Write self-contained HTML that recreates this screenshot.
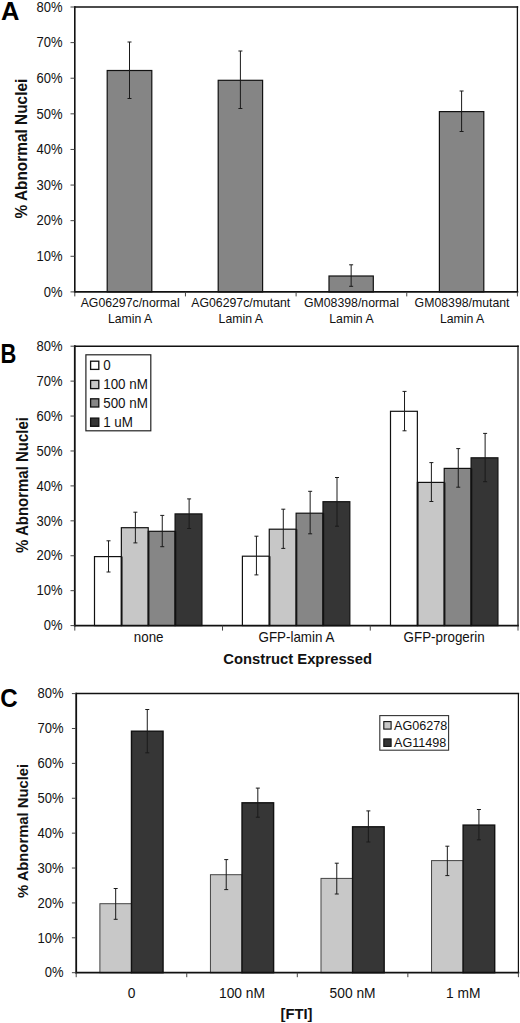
<!DOCTYPE html>
<html><head><meta charset="utf-8"><title>Figure</title>
<style>
html,body{margin:0;padding:0;background:#fff;}
body{width:520px;height:1023px;overflow:hidden;}
svg{display:block;font-family:"Liberation Sans", sans-serif;}
</style></head>
<body>
<svg width="520" height="1023" viewBox="0 0 520 1023">
<rect x="0" y="0" width="520" height="1023" fill="#ffffff"/>
<rect x="107.20" y="70.50" width="44.60" height="221.40" fill="#858585" stroke="#111" stroke-width="1.2"/>
<rect x="218.20" y="80.30" width="44.40" height="211.60" fill="#858585" stroke="#111" stroke-width="1.2"/>
<rect x="329.00" y="276.00" width="44.30" height="15.90" fill="#858585" stroke="#111" stroke-width="1.2"/>
<rect x="439.40" y="111.60" width="44.40" height="180.30" fill="#858585" stroke="#111" stroke-width="1.2"/>
<line x1="129.50" y1="42.00" x2="129.50" y2="98.50" stroke="#1a1a1a" stroke-width="1"/>
<line x1="127.50" y1="42.00" x2="131.50" y2="42.00" stroke="#1a1a1a" stroke-width="1"/>
<line x1="127.50" y1="98.50" x2="131.50" y2="98.50" stroke="#1a1a1a" stroke-width="1"/>
<line x1="240.40" y1="51.00" x2="240.40" y2="108.50" stroke="#1a1a1a" stroke-width="1"/>
<line x1="238.40" y1="51.00" x2="242.40" y2="51.00" stroke="#1a1a1a" stroke-width="1"/>
<line x1="238.40" y1="108.50" x2="242.40" y2="108.50" stroke="#1a1a1a" stroke-width="1"/>
<line x1="351.15" y1="264.80" x2="351.15" y2="286.30" stroke="#1a1a1a" stroke-width="1"/>
<line x1="349.15" y1="264.80" x2="353.15" y2="264.80" stroke="#1a1a1a" stroke-width="1"/>
<line x1="349.15" y1="286.30" x2="353.15" y2="286.30" stroke="#1a1a1a" stroke-width="1"/>
<line x1="461.60" y1="91.00" x2="461.60" y2="131.50" stroke="#1a1a1a" stroke-width="1"/>
<line x1="459.60" y1="91.00" x2="463.60" y2="91.00" stroke="#1a1a1a" stroke-width="1"/>
<line x1="459.60" y1="131.50" x2="463.60" y2="131.50" stroke="#1a1a1a" stroke-width="1"/>
<line x1="74.80" y1="7.00" x2="517.40" y2="7.00" stroke="#111" stroke-width="1.6" stroke-linecap="square"/>
<line x1="517.40" y1="7.00" x2="517.40" y2="291.90" stroke="#111" stroke-width="1.3" stroke-linecap="square"/>
<line x1="74.80" y1="7.00" x2="74.80" y2="291.90" stroke="#111" stroke-width="1.6" stroke-linecap="square"/>
<line x1="74.80" y1="291.90" x2="517.40" y2="291.90" stroke="#111" stroke-width="1.8" stroke-linecap="square"/>
<line x1="70.50" y1="291.90" x2="74.50" y2="291.90" stroke="#444" stroke-width="1"/>
<text transform="translate(62.50 296.60) scale(1 1.07)" font-size="13" text-anchor="end" font-weight="400" fill="#111">0%</text>
<line x1="70.50" y1="256.29" x2="74.50" y2="256.29" stroke="#444" stroke-width="1"/>
<text transform="translate(62.50 260.99) scale(1 1.07)" font-size="13" text-anchor="end" font-weight="400" fill="#111">10%</text>
<line x1="70.50" y1="220.67" x2="74.50" y2="220.67" stroke="#444" stroke-width="1"/>
<text transform="translate(62.50 225.37) scale(1 1.07)" font-size="13" text-anchor="end" font-weight="400" fill="#111">20%</text>
<line x1="70.50" y1="185.06" x2="74.50" y2="185.06" stroke="#444" stroke-width="1"/>
<text transform="translate(62.50 189.76) scale(1 1.07)" font-size="13" text-anchor="end" font-weight="400" fill="#111">30%</text>
<line x1="70.50" y1="149.45" x2="74.50" y2="149.45" stroke="#444" stroke-width="1"/>
<text transform="translate(62.50 154.15) scale(1 1.07)" font-size="13" text-anchor="end" font-weight="400" fill="#111">40%</text>
<line x1="70.50" y1="113.84" x2="74.50" y2="113.84" stroke="#444" stroke-width="1"/>
<text transform="translate(62.50 118.54) scale(1 1.07)" font-size="13" text-anchor="end" font-weight="400" fill="#111">50%</text>
<line x1="70.50" y1="78.22" x2="74.50" y2="78.22" stroke="#444" stroke-width="1"/>
<text transform="translate(62.50 82.92) scale(1 1.07)" font-size="13" text-anchor="end" font-weight="400" fill="#111">60%</text>
<line x1="70.50" y1="42.61" x2="74.50" y2="42.61" stroke="#444" stroke-width="1"/>
<text transform="translate(62.50 47.31) scale(1 1.07)" font-size="13" text-anchor="end" font-weight="400" fill="#111">70%</text>
<line x1="70.50" y1="7.00" x2="74.50" y2="7.00" stroke="#444" stroke-width="1"/>
<text transform="translate(62.50 11.70) scale(1 1.07)" font-size="13" text-anchor="end" font-weight="400" fill="#111">80%</text>
<text transform="translate(26.70 148.60) rotate(-90) scale(1 1.04)" font-size="15.4" text-anchor="middle" font-weight="700" fill="#111">% Abnormal Nuclei</text>
<line x1="74.80" y1="291.90" x2="74.80" y2="296.40" stroke="#444" stroke-width="1"/>
<line x1="185.45" y1="291.90" x2="185.45" y2="296.40" stroke="#444" stroke-width="1"/>
<line x1="296.10" y1="291.90" x2="296.10" y2="296.40" stroke="#444" stroke-width="1"/>
<line x1="406.75" y1="291.90" x2="406.75" y2="296.40" stroke="#444" stroke-width="1"/>
<line x1="517.40" y1="291.90" x2="517.40" y2="296.40" stroke="#444" stroke-width="1"/>
<text transform="translate(130.12 307.30) scale(1 1.07)" font-size="12.3" text-anchor="middle" font-weight="400" fill="#111">AG06297c/normal</text>
<text transform="translate(130.12 323.00) scale(1 1.07)" font-size="12.3" text-anchor="middle" font-weight="400" fill="#111">Lamin A</text>
<text transform="translate(240.77 307.30) scale(1 1.07)" font-size="12.3" text-anchor="middle" font-weight="400" fill="#111">AG06297c/mutant</text>
<text transform="translate(240.77 323.00) scale(1 1.07)" font-size="12.3" text-anchor="middle" font-weight="400" fill="#111">Lamin A</text>
<text transform="translate(351.43 307.30) scale(1 1.07)" font-size="12.3" text-anchor="middle" font-weight="400" fill="#111">GM08398/normal</text>
<text transform="translate(351.43 323.00) scale(1 1.07)" font-size="12.3" text-anchor="middle" font-weight="400" fill="#111">Lamin A</text>
<text transform="translate(462.07 307.30) scale(1 1.07)" font-size="12.3" text-anchor="middle" font-weight="400" fill="#111">GM08398/mutant</text>
<text transform="translate(462.07 323.00) scale(1 1.07)" font-size="12.3" text-anchor="middle" font-weight="400" fill="#111">Lamin A</text>
<text transform="translate(1.00 19.60)" font-size="25.5" text-anchor="start" font-weight="700" fill="#000">A</text>
<rect x="94.50" y="556.60" width="26.86" height="69.00" fill="#ffffff" stroke="#111" stroke-width="1.2"/>
<rect x="121.36" y="527.70" width="26.86" height="97.90" fill="#c7c7c7" stroke="#111" stroke-width="1.2"/>
<rect x="148.22" y="531.30" width="26.86" height="94.30" fill="#868686" stroke="#111" stroke-width="1.2"/>
<rect x="175.08" y="513.90" width="26.86" height="111.70" fill="#353535" stroke="#111" stroke-width="1.2"/>
<rect x="242.40" y="556.20" width="26.86" height="69.40" fill="#ffffff" stroke="#111" stroke-width="1.2"/>
<rect x="269.26" y="529.20" width="26.86" height="96.40" fill="#c7c7c7" stroke="#111" stroke-width="1.2"/>
<rect x="296.12" y="513.20" width="26.86" height="112.40" fill="#868686" stroke="#111" stroke-width="1.2"/>
<rect x="322.98" y="501.70" width="26.86" height="123.90" fill="#353535" stroke="#111" stroke-width="1.2"/>
<rect x="390.50" y="411.30" width="26.86" height="214.30" fill="#ffffff" stroke="#111" stroke-width="1.2"/>
<rect x="417.36" y="482.40" width="26.86" height="143.20" fill="#c7c7c7" stroke="#111" stroke-width="1.2"/>
<rect x="444.22" y="468.40" width="26.86" height="157.20" fill="#868686" stroke="#111" stroke-width="1.2"/>
<rect x="471.08" y="457.80" width="26.86" height="167.80" fill="#353535" stroke="#111" stroke-width="1.2"/>
<line x1="121.96" y1="556.60" x2="121.96" y2="625.60" stroke="#111" stroke-width="1.2"/>
<line x1="148.82" y1="531.30" x2="148.82" y2="625.60" stroke="#111" stroke-width="1.2"/>
<line x1="175.68" y1="531.30" x2="175.68" y2="625.60" stroke="#111" stroke-width="1.2"/>
<line x1="269.86" y1="556.20" x2="269.86" y2="625.60" stroke="#111" stroke-width="1.2"/>
<line x1="296.72" y1="529.20" x2="296.72" y2="625.60" stroke="#111" stroke-width="1.2"/>
<line x1="323.58" y1="513.20" x2="323.58" y2="625.60" stroke="#111" stroke-width="1.2"/>
<line x1="417.96" y1="482.40" x2="417.96" y2="625.60" stroke="#111" stroke-width="1.2"/>
<line x1="444.82" y1="482.40" x2="444.82" y2="625.60" stroke="#111" stroke-width="1.2"/>
<line x1="471.68" y1="468.40" x2="471.68" y2="625.60" stroke="#111" stroke-width="1.2"/>
<line x1="108.53" y1="540.80" x2="108.53" y2="572.00" stroke="#1a1a1a" stroke-width="1"/>
<line x1="106.53" y1="540.80" x2="110.53" y2="540.80" stroke="#1a1a1a" stroke-width="1"/>
<line x1="106.53" y1="572.00" x2="110.53" y2="572.00" stroke="#1a1a1a" stroke-width="1"/>
<line x1="135.39" y1="512.20" x2="135.39" y2="542.90" stroke="#1a1a1a" stroke-width="1"/>
<line x1="133.39" y1="512.20" x2="137.39" y2="512.20" stroke="#1a1a1a" stroke-width="1"/>
<line x1="133.39" y1="542.90" x2="137.39" y2="542.90" stroke="#1a1a1a" stroke-width="1"/>
<line x1="162.25" y1="515.40" x2="162.25" y2="546.70" stroke="#1a1a1a" stroke-width="1"/>
<line x1="160.25" y1="515.40" x2="164.25" y2="515.40" stroke="#1a1a1a" stroke-width="1"/>
<line x1="160.25" y1="546.70" x2="164.25" y2="546.70" stroke="#1a1a1a" stroke-width="1"/>
<line x1="189.11" y1="498.90" x2="189.11" y2="528.50" stroke="#1a1a1a" stroke-width="1"/>
<line x1="187.11" y1="498.90" x2="191.11" y2="498.90" stroke="#1a1a1a" stroke-width="1"/>
<line x1="187.11" y1="528.50" x2="191.11" y2="528.50" stroke="#1a1a1a" stroke-width="1"/>
<line x1="256.43" y1="536.20" x2="256.43" y2="574.90" stroke="#1a1a1a" stroke-width="1"/>
<line x1="254.43" y1="536.20" x2="258.43" y2="536.20" stroke="#1a1a1a" stroke-width="1"/>
<line x1="254.43" y1="574.90" x2="258.43" y2="574.90" stroke="#1a1a1a" stroke-width="1"/>
<line x1="283.29" y1="509.20" x2="283.29" y2="548.40" stroke="#1a1a1a" stroke-width="1"/>
<line x1="281.29" y1="509.20" x2="285.29" y2="509.20" stroke="#1a1a1a" stroke-width="1"/>
<line x1="281.29" y1="548.40" x2="285.29" y2="548.40" stroke="#1a1a1a" stroke-width="1"/>
<line x1="310.15" y1="491.30" x2="310.15" y2="533.80" stroke="#1a1a1a" stroke-width="1"/>
<line x1="308.15" y1="491.30" x2="312.15" y2="491.30" stroke="#1a1a1a" stroke-width="1"/>
<line x1="308.15" y1="533.80" x2="312.15" y2="533.80" stroke="#1a1a1a" stroke-width="1"/>
<line x1="337.01" y1="477.50" x2="337.01" y2="526.20" stroke="#1a1a1a" stroke-width="1"/>
<line x1="335.01" y1="477.50" x2="339.01" y2="477.50" stroke="#1a1a1a" stroke-width="1"/>
<line x1="335.01" y1="526.20" x2="339.01" y2="526.20" stroke="#1a1a1a" stroke-width="1"/>
<line x1="404.53" y1="391.40" x2="404.53" y2="430.80" stroke="#1a1a1a" stroke-width="1"/>
<line x1="402.53" y1="391.40" x2="406.53" y2="391.40" stroke="#1a1a1a" stroke-width="1"/>
<line x1="402.53" y1="430.80" x2="406.53" y2="430.80" stroke="#1a1a1a" stroke-width="1"/>
<line x1="431.39" y1="462.60" x2="431.39" y2="501.50" stroke="#1a1a1a" stroke-width="1"/>
<line x1="429.39" y1="462.60" x2="433.39" y2="462.60" stroke="#1a1a1a" stroke-width="1"/>
<line x1="429.39" y1="501.50" x2="433.39" y2="501.50" stroke="#1a1a1a" stroke-width="1"/>
<line x1="458.25" y1="448.60" x2="458.25" y2="487.20" stroke="#1a1a1a" stroke-width="1"/>
<line x1="456.25" y1="448.60" x2="460.25" y2="448.60" stroke="#1a1a1a" stroke-width="1"/>
<line x1="456.25" y1="487.20" x2="460.25" y2="487.20" stroke="#1a1a1a" stroke-width="1"/>
<line x1="485.11" y1="433.40" x2="485.11" y2="481.70" stroke="#1a1a1a" stroke-width="1"/>
<line x1="483.11" y1="433.40" x2="487.11" y2="433.40" stroke="#1a1a1a" stroke-width="1"/>
<line x1="483.11" y1="481.70" x2="487.11" y2="481.70" stroke="#1a1a1a" stroke-width="1"/>
<line x1="74.80" y1="346.20" x2="518.00" y2="346.20" stroke="#111" stroke-width="1.6" stroke-linecap="square"/>
<line x1="518.00" y1="346.20" x2="518.00" y2="625.60" stroke="#111" stroke-width="1.3" stroke-linecap="square"/>
<line x1="74.80" y1="346.20" x2="74.80" y2="625.60" stroke="#111" stroke-width="1.8" stroke-linecap="square"/>
<line x1="74.80" y1="625.60" x2="518.00" y2="625.60" stroke="#111" stroke-width="1.7" stroke-linecap="square"/>
<line x1="70.50" y1="625.60" x2="74.50" y2="625.60" stroke="#444" stroke-width="1"/>
<text transform="translate(62.50 630.30) scale(1 1.07)" font-size="13" text-anchor="end" font-weight="400" fill="#111">0%</text>
<line x1="70.50" y1="590.68" x2="74.50" y2="590.68" stroke="#444" stroke-width="1"/>
<text transform="translate(62.50 595.38) scale(1 1.07)" font-size="13" text-anchor="end" font-weight="400" fill="#111">10%</text>
<line x1="70.50" y1="555.75" x2="74.50" y2="555.75" stroke="#444" stroke-width="1"/>
<text transform="translate(62.50 560.45) scale(1 1.07)" font-size="13" text-anchor="end" font-weight="400" fill="#111">20%</text>
<line x1="70.50" y1="520.83" x2="74.50" y2="520.83" stroke="#444" stroke-width="1"/>
<text transform="translate(62.50 525.53) scale(1 1.07)" font-size="13" text-anchor="end" font-weight="400" fill="#111">30%</text>
<line x1="70.50" y1="485.90" x2="74.50" y2="485.90" stroke="#444" stroke-width="1"/>
<text transform="translate(62.50 490.60) scale(1 1.07)" font-size="13" text-anchor="end" font-weight="400" fill="#111">40%</text>
<line x1="70.50" y1="450.98" x2="74.50" y2="450.98" stroke="#444" stroke-width="1"/>
<text transform="translate(62.50 455.68) scale(1 1.07)" font-size="13" text-anchor="end" font-weight="400" fill="#111">50%</text>
<line x1="70.50" y1="416.05" x2="74.50" y2="416.05" stroke="#444" stroke-width="1"/>
<text transform="translate(62.50 420.75) scale(1 1.07)" font-size="13" text-anchor="end" font-weight="400" fill="#111">60%</text>
<line x1="70.50" y1="381.12" x2="74.50" y2="381.12" stroke="#444" stroke-width="1"/>
<text transform="translate(62.50 385.82) scale(1 1.07)" font-size="13" text-anchor="end" font-weight="400" fill="#111">70%</text>
<line x1="70.50" y1="346.20" x2="74.50" y2="346.20" stroke="#444" stroke-width="1"/>
<text transform="translate(62.50 350.90) scale(1 1.07)" font-size="13" text-anchor="end" font-weight="400" fill="#111">80%</text>
<text transform="translate(27.50 485.00) rotate(-90) scale(1 1.04)" font-size="15" text-anchor="middle" font-weight="700" fill="#111">% Abnormal Nuclei</text>
<line x1="74.80" y1="625.60" x2="74.80" y2="630.60" stroke="#444" stroke-width="1"/>
<line x1="222.53" y1="625.60" x2="222.53" y2="630.60" stroke="#444" stroke-width="1"/>
<line x1="370.27" y1="625.60" x2="370.27" y2="630.60" stroke="#444" stroke-width="1"/>
<line x1="518.00" y1="625.60" x2="518.00" y2="630.60" stroke="#444" stroke-width="1"/>
<text transform="translate(148.67 642.20) scale(1 1.07)" font-size="13.4" text-anchor="middle" font-weight="400" fill="#111">none</text>
<text transform="translate(296.40 642.20) scale(1 1.07)" font-size="13.4" text-anchor="middle" font-weight="400" fill="#111">GFP-lamin A</text>
<text transform="translate(444.13 642.20) scale(1 1.07)" font-size="13.4" text-anchor="middle" font-weight="400" fill="#111">GFP-progerin</text>
<text transform="translate(297.70 664.00) scale(1 1.03)" font-size="14.8" text-anchor="middle" font-weight="700" fill="#111">Construct Expressed</text>
<text x="0.00" y="0.00" font-size="27.4" text-anchor="start" font-weight="700" fill="#000" transform="translate(0.4 362.6) scale(0.80 1)">B</text>
<rect x="85.90" y="354.80" width="64.90" height="76.00" fill="#ffffff" stroke="#222" stroke-width="1.2"/>
<rect x="90.60" y="361.20" width="8.20" height="8.20" fill="#ffffff" stroke="#111" stroke-width="1.3"/>
<text transform="translate(103.20 370.10) scale(1 1.07)" font-size="13.4" text-anchor="start" font-weight="400" fill="#111">0</text>
<rect x="90.60" y="380.40" width="8.20" height="8.20" fill="#c7c7c7" stroke="#111" stroke-width="1.3"/>
<text transform="translate(103.20 389.30) scale(1 1.07)" font-size="13.4" text-anchor="start" font-weight="400" fill="#111">100 nM</text>
<rect x="90.60" y="398.80" width="8.20" height="8.20" fill="#868686" stroke="#111" stroke-width="1.3"/>
<text transform="translate(103.20 407.70) scale(1 1.07)" font-size="13.4" text-anchor="start" font-weight="400" fill="#111">500 nM</text>
<rect x="90.60" y="418.10" width="8.20" height="8.20" fill="#353535" stroke="#111" stroke-width="1.3"/>
<text transform="translate(103.20 427.00) scale(1 1.07)" font-size="13.4" text-anchor="start" font-weight="400" fill="#111">1 uM</text>
<rect x="99.89" y="903.70" width="31.59" height="69.00" fill="#c8c8c8" stroke="#444" stroke-width="1.0"/>
<rect x="131.47" y="731.20" width="31.59" height="241.50" fill="#363636" stroke="#111" stroke-width="1.4"/>
<rect x="210.44" y="874.70" width="31.59" height="98.00" fill="#c8c8c8" stroke="#444" stroke-width="1.0"/>
<rect x="242.02" y="802.80" width="31.59" height="169.90" fill="#363636" stroke="#111" stroke-width="1.4"/>
<rect x="320.99" y="878.40" width="31.59" height="94.30" fill="#c8c8c8" stroke="#444" stroke-width="1.0"/>
<rect x="352.57" y="826.80" width="31.59" height="145.90" fill="#363636" stroke="#111" stroke-width="1.4"/>
<rect x="431.54" y="860.60" width="31.59" height="112.10" fill="#c8c8c8" stroke="#444" stroke-width="1.0"/>
<rect x="463.12" y="825.10" width="31.59" height="147.60" fill="#363636" stroke="#111" stroke-width="1.4"/>
<line x1="115.68" y1="888.50" x2="115.68" y2="919.30" stroke="#1a1a1a" stroke-width="1"/>
<line x1="113.68" y1="888.50" x2="117.68" y2="888.50" stroke="#1a1a1a" stroke-width="1"/>
<line x1="113.68" y1="919.30" x2="117.68" y2="919.30" stroke="#1a1a1a" stroke-width="1"/>
<line x1="147.27" y1="709.50" x2="147.27" y2="752.80" stroke="#1a1a1a" stroke-width="1"/>
<line x1="145.27" y1="709.50" x2="149.27" y2="709.50" stroke="#1a1a1a" stroke-width="1"/>
<line x1="145.27" y1="752.80" x2="149.27" y2="752.80" stroke="#1a1a1a" stroke-width="1"/>
<line x1="226.23" y1="859.60" x2="226.23" y2="889.60" stroke="#1a1a1a" stroke-width="1"/>
<line x1="224.23" y1="859.60" x2="228.23" y2="859.60" stroke="#1a1a1a" stroke-width="1"/>
<line x1="224.23" y1="889.60" x2="228.23" y2="889.60" stroke="#1a1a1a" stroke-width="1"/>
<line x1="257.82" y1="788.10" x2="257.82" y2="817.20" stroke="#1a1a1a" stroke-width="1"/>
<line x1="255.82" y1="788.10" x2="259.82" y2="788.10" stroke="#1a1a1a" stroke-width="1"/>
<line x1="255.82" y1="817.20" x2="259.82" y2="817.20" stroke="#1a1a1a" stroke-width="1"/>
<line x1="336.78" y1="863.20" x2="336.78" y2="894.00" stroke="#1a1a1a" stroke-width="1"/>
<line x1="334.78" y1="863.20" x2="338.78" y2="863.20" stroke="#1a1a1a" stroke-width="1"/>
<line x1="334.78" y1="894.00" x2="338.78" y2="894.00" stroke="#1a1a1a" stroke-width="1"/>
<line x1="368.37" y1="810.90" x2="368.37" y2="842.00" stroke="#1a1a1a" stroke-width="1"/>
<line x1="366.37" y1="810.90" x2="370.37" y2="810.90" stroke="#1a1a1a" stroke-width="1"/>
<line x1="366.37" y1="842.00" x2="370.37" y2="842.00" stroke="#1a1a1a" stroke-width="1"/>
<line x1="447.33" y1="846.20" x2="447.33" y2="875.60" stroke="#1a1a1a" stroke-width="1"/>
<line x1="445.33" y1="846.20" x2="449.33" y2="846.20" stroke="#1a1a1a" stroke-width="1"/>
<line x1="445.33" y1="875.60" x2="449.33" y2="875.60" stroke="#1a1a1a" stroke-width="1"/>
<line x1="478.92" y1="809.50" x2="478.92" y2="839.80" stroke="#1a1a1a" stroke-width="1"/>
<line x1="476.92" y1="809.50" x2="480.92" y2="809.50" stroke="#1a1a1a" stroke-width="1"/>
<line x1="476.92" y1="839.80" x2="480.92" y2="839.80" stroke="#1a1a1a" stroke-width="1"/>
<line x1="76.20" y1="693.60" x2="518.40" y2="693.60" stroke="#111" stroke-width="1.5" stroke-linecap="square"/>
<line x1="518.40" y1="693.60" x2="518.40" y2="972.70" stroke="#111" stroke-width="1.2" stroke-linecap="square"/>
<line x1="76.20" y1="693.60" x2="76.20" y2="972.70" stroke="#111" stroke-width="1.8" stroke-linecap="square"/>
<line x1="76.20" y1="972.70" x2="518.40" y2="972.70" stroke="#111" stroke-width="1.7" stroke-linecap="square"/>
<line x1="71.90" y1="972.70" x2="75.90" y2="972.70" stroke="#444" stroke-width="1"/>
<text transform="translate(63.50 977.40) scale(1 1.07)" font-size="13" text-anchor="end" font-weight="400" fill="#111">0%</text>
<line x1="71.90" y1="937.81" x2="75.90" y2="937.81" stroke="#444" stroke-width="1"/>
<text transform="translate(63.50 942.51) scale(1 1.07)" font-size="13" text-anchor="end" font-weight="400" fill="#111">10%</text>
<line x1="71.90" y1="902.93" x2="75.90" y2="902.93" stroke="#444" stroke-width="1"/>
<text transform="translate(63.50 907.63) scale(1 1.07)" font-size="13" text-anchor="end" font-weight="400" fill="#111">20%</text>
<line x1="71.90" y1="868.04" x2="75.90" y2="868.04" stroke="#444" stroke-width="1"/>
<text transform="translate(63.50 872.74) scale(1 1.07)" font-size="13" text-anchor="end" font-weight="400" fill="#111">30%</text>
<line x1="71.90" y1="833.15" x2="75.90" y2="833.15" stroke="#444" stroke-width="1"/>
<text transform="translate(63.50 837.85) scale(1 1.07)" font-size="13" text-anchor="end" font-weight="400" fill="#111">40%</text>
<line x1="71.90" y1="798.26" x2="75.90" y2="798.26" stroke="#444" stroke-width="1"/>
<text transform="translate(63.50 802.96) scale(1 1.07)" font-size="13" text-anchor="end" font-weight="400" fill="#111">50%</text>
<line x1="71.90" y1="763.38" x2="75.90" y2="763.38" stroke="#444" stroke-width="1"/>
<text transform="translate(63.50 768.08) scale(1 1.07)" font-size="13" text-anchor="end" font-weight="400" fill="#111">60%</text>
<line x1="71.90" y1="728.49" x2="75.90" y2="728.49" stroke="#444" stroke-width="1"/>
<text transform="translate(63.50 733.19) scale(1 1.07)" font-size="13" text-anchor="end" font-weight="400" fill="#111">70%</text>
<line x1="71.90" y1="693.60" x2="75.90" y2="693.60" stroke="#444" stroke-width="1"/>
<text transform="translate(63.50 698.30) scale(1 1.07)" font-size="13" text-anchor="end" font-weight="400" fill="#111">80%</text>
<text transform="translate(28.00 831.00) rotate(-90) scale(1 1.04)" font-size="14.8" text-anchor="middle" font-weight="700" fill="#111">% Abnormal Nuclei</text>
<line x1="76.20" y1="972.70" x2="76.20" y2="977.20" stroke="#444" stroke-width="1"/>
<line x1="186.75" y1="972.70" x2="186.75" y2="977.20" stroke="#444" stroke-width="1"/>
<line x1="297.30" y1="972.70" x2="297.30" y2="977.20" stroke="#444" stroke-width="1"/>
<line x1="407.85" y1="972.70" x2="407.85" y2="977.20" stroke="#444" stroke-width="1"/>
<line x1="518.40" y1="972.70" x2="518.40" y2="977.20" stroke="#444" stroke-width="1"/>
<text transform="translate(131.47 998.30) scale(1 1.07)" font-size="13.8" text-anchor="middle" font-weight="400" fill="#111">0</text>
<text transform="translate(242.02 998.30) scale(1 1.07)" font-size="13.8" text-anchor="middle" font-weight="400" fill="#111">100 nM</text>
<text transform="translate(352.57 998.30) scale(1 1.07)" font-size="13.8" text-anchor="middle" font-weight="400" fill="#111">500 nM</text>
<text transform="translate(463.12 998.30) scale(1 1.07)" font-size="13.8" text-anchor="middle" font-weight="400" fill="#111">1 mM</text>
<text transform="translate(296.50 1019.40)" font-size="14.8" text-anchor="middle" font-weight="700" fill="#111">[FTI]</text>
<text x="0.00" y="0.00" font-size="26.2" text-anchor="start" font-weight="700" fill="#000" transform="translate(0.2 707.2) scale(0.92 1)">C</text>
<rect x="379.80" y="715.60" width="68.80" height="34.60" fill="#ffffff" stroke="#333" stroke-width="1.1"/>
<rect x="383.80" y="721.60" width="7.30" height="7.50" fill="#c8c8c8" stroke="#111" stroke-width="1.1"/>
<text transform="translate(394.00 729.90) scale(1 1.07)" font-size="12.6" text-anchor="start" font-weight="400" fill="#111">AG06278</text>
<rect x="383.80" y="738.90" width="7.30" height="7.50" fill="#353535" stroke="#111" stroke-width="1.1"/>
<text transform="translate(394.00 747.20) scale(1 1.07)" font-size="12.6" text-anchor="start" font-weight="400" fill="#111">AG11498</text>
</svg>
</body></html>
